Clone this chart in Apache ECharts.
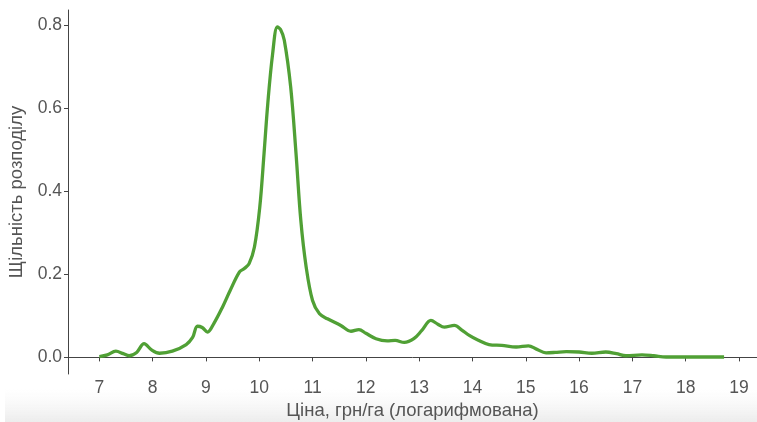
<!DOCTYPE html>
<html>
<head>
<meta charset="utf-8">
<script src="https://cdn.jsdelivr.net/npm/echarts@6/dist/echarts.min.js"></script>
<style>html,body{margin:0;padding:0;background:#fff}#c{width:757px;height:422px}</style>
</head>
<body>
<div id="c"></div>
<script>
const priceLog = [7.0,7.15,7.31,7.45,7.56,7.7,7.84,7.98,8.13,8.37,8.63,8.75,8.84,8.93,9.03,9.15,9.31,9.45,9.63,9.72,9.81,9.91,10.01,10.09,10.16,10.25,10.34,10.4,10.47,10.59,10.69,10.78,10.88,11.0,11.13,11.28,11.53,11.72,11.87,12.0,12.19,12.4,12.55,12.72,12.9,13.05,13.22,13.35,13.47,13.66,13.8,13.94,14.1,14.31,14.55,14.82,15.05,15.2,15.38,15.55,15.76,16.0,16.24,16.5,16.7,16.88,17.18,17.4,17.63,18.0,18.3,18.72];
const density = [0.002,0.006,0.015,0.009,0.004,0.012,0.033,0.018,0.010,0.015,0.031,0.048,0.075,0.072,0.061,0.082,0.121,0.160,0.206,0.214,0.226,0.266,0.362,0.491,0.611,0.730,0.796,0.790,0.764,0.651,0.491,0.330,0.218,0.137,0.105,0.093,0.077,0.063,0.067,0.058,0.045,0.040,0.041,0.036,0.045,0.065,0.089,0.080,0.073,0.077,0.066,0.053,0.042,0.031,0.029,0.025,0.028,0.020,0.011,0.012,0.014,0.013,0.010,0.013,0.009,0.004,0.006,0.004,0.001,0.001,0.001,0.001];
const xTicks = [7,8,9,10,11,12,13,14,15,16,17,18,19];
const yTicks = [0,0.2,0.4,0.6,0.8];
const xName = 'Ціна, грн/га (логарифмована)';
const yName = 'Щільність розподілу';

const chart = echarts.init(document.getElementById('c'));
const font = '"Liberation Sans", Arial, sans-serif';
chart.setOption({
  animation: false,
  graphic: [{
    type: 'rect', z: -10, silent: true,
    shape: {x: 5, y: 389, width: 752, height: 33},
    style: {fill: new echarts.graphic.LinearGradient(0,0,0,1,[{offset:0,color:'rgba(245,245,245,0)'},{offset:1,color:'#ececec'}])}
  }],
  grid: {left: 68, right: 0, top: 10, bottom: 48, containLabel: false, outerBoundsMode: 'none'},
  xAxis: {
    type: 'value', min: 6.4125, max: 19.3375,
    name: xName, nameLocation: 'middle', nameGap: 27,
    nameTextStyle: {color: '#555', fontSize: 18.5, fontFamily: font},
    axisLine: {show: true, lineStyle: {color: '#444', width: 1}},
    axisTick: {show: true, length: 4, customValues: xTicks, lineStyle: {color: '#444'}},
    axisLabel: {customValues: xTicks, color: '#555', fontSize: 17.5, fontFamily: font, margin: 5},
    splitLine: {show: false}
  },
  yAxis: {
    type: 'value', min: -0.04, max: 0.837,
    name: yName, nameLocation: 'middle', nameGap: 38, nameRotate: 90,
    nameTextStyle: {color: '#555', fontSize: 18.5, fontFamily: font},
    axisLine: {show: true, lineStyle: {color: '#444', width: 1}},
    axisTick: {show: true, length: 4, customValues: yTicks, lineStyle: {color: '#444'}},
    axisLabel: {customValues: yTicks, color: '#555', fontSize: 17.5, fontFamily: font, margin: 6,
      formatter: v => v.toFixed(1)},
    splitLine: {show: false}
  },
  series: [{
    type: 'line',
    data: priceLog.map((x, i) => [x, density[i]]),
    smooth: 0.35,
    showSymbol: false,
    lineStyle: {color: '#50a035', width: 3.3}
  }]
});
</script>
</body>
</html>
